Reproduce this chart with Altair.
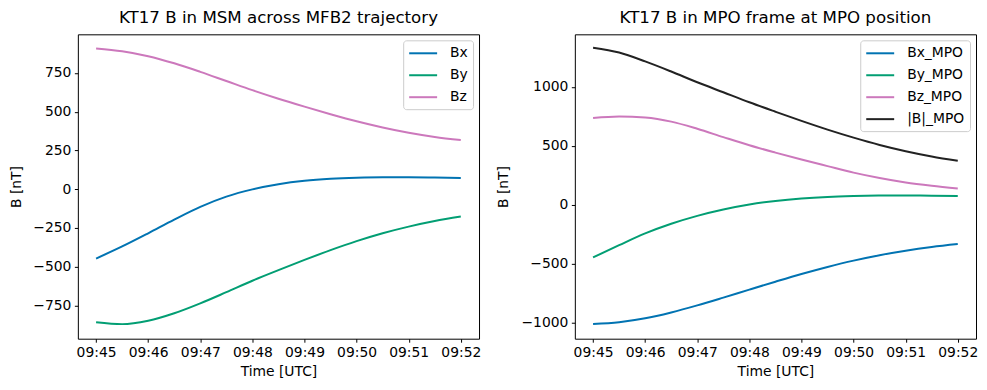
import json
import altair as alt
import pandas as pd

# minutes after 09:45 UTC
T_MIN = [0, 0.5, 1, 1.5, 2, 2.5, 3, 3.5, 4, 4.5, 5, 5.5, 6, 6.5, 7]
TICK_VALUES = [0, 1, 2, 3, 4, 5, 6, 7]
TICK_LABELS = ["09:45", "09:46", "09:47", "09:48", "09:49", "09:50", "09:51", "09:52"]

# Left panel: KT17 B in MSM
BX = [-447, -369, -284, -196, -114, -48, -1, 32, 54, 67, 74, 77, 77, 75, 72]
BY = [-858, -870, -848, -800, -736, -664, -590, -522, -456, -393, -335, -284, -241, -205, -176]
BZ = [908, 890, 858, 812, 757, 698, 639, 584, 533, 484, 438, 398, 364, 337, 317]

# Right panel: KT17 B in MPO frame
BX_MPO = [-1012, -997, -964, -914, -854, -788, -720, -653, -588, -528, -474, -428, -390, -359, -334]
BY_MPO = [-447, -343, -243, -161, -94, -40, 2, 33, 54, 67, 74, 78, 79, 77, 74]
BZ_MPO = [737, 750, 741, 706, 645, 574, 505, 443, 384, 328, 273, 227, 189, 161, 138]
BMAG_MPO = [1333, 1292, 1217, 1131, 1040, 955, 870, 790, 712, 638, 570, 508, 455, 410, 373]

LEFT_NAMES = ["Bx", "By", "Bz"]
RIGHT_NAMES = ["Bx_MPO", "By_MPO", "Bz_MPO", "|B|_MPO"]
LEFT_COLORS = ["#0173B2", "#029E73", "#CC78BC"]
RIGHT_COLORS = ["#0173B2", "#029E73", "#CC78BC", "#222222"]

LEFT_YTICKS = [-750, -500, -250, 0, 250, 500, 750]
RIGHT_YTICKS = [-1000, -500, 0, 500, 1000]


def long_df(names, series):
    rows = []
    for name, vals in zip(names, series):
        for t, v in zip(T_MIN, vals):
            rows.append({"t": t, "B": v, "series": name})
    return pd.DataFrame(rows)


FONT = "DejaVu Sans"
label_expr = json.dumps(TICK_LABELS) + "[round(datum.value)]"


def panel(df, names, colors, title, ydomain, yticks, ytitle_pad):
    return (
        alt.Chart(df, title=alt.Title(title))
        .mark_line(strokeWidth=2, interpolate="monotone")
        .encode(
            x=alt.X(
                "t:Q",
                scale=alt.Scale(domain=[-0.35, 7.35], nice=False, zero=False),
                axis=alt.Axis(values=TICK_VALUES, labelExpr=label_expr,
                              title="Time [UTC]", titlePadding=5),
            ),
            y=alt.Y(
                "B:Q",
                scale=alt.Scale(domain=ydomain, nice=False, zero=False),
                axis=alt.Axis(values=yticks, format="d", title="B [nT]",
                              titlePadding=ytitle_pad),
            ),
            color=alt.Color(
                "series:N",
                sort=names,
                scale=alt.Scale(domain=names, range=colors),
                legend=alt.Legend(
                    orient="top-right", offset=6, title=None,
                    symbolType="M-1,0H3", symbolSize=196, symbolStrokeWidth=2,
                    labelFont=FONT, labelFontSize=13.9, labelColor="black",
                    labelOffset=26, rowPadding=7, padding=5,
                    strokeColor="#cccccc", fillColor="white", cornerRadius=3,
                ),
            ),
        )
        .properties(width=402, height=305)
    )


left = panel(long_df(LEFT_NAMES, [BX, BY, BZ]), LEFT_NAMES, LEFT_COLORS,
             "KT17 B in MSM across MFB2 trajectory", [-964, 999], LEFT_YTICKS, 9)
right = panel(long_df(RIGHT_NAMES, [BX_MPO, BY_MPO, BZ_MPO, BMAG_MPO]), RIGHT_NAMES, RIGHT_COLORS,
              "KT17 B in MPO frame at MPO position", [-1137, 1447], RIGHT_YTICKS, 10)

chart = (
    alt.hconcat(left, right, spacing=14)
    .resolve_scale(color="independent")
    .properties(padding={"left": 1, "top": 0, "right": 0, "bottom": 0})
    .configure_view(stroke="black", strokeWidth=1)
    .configure_axis(
        domain=False, grid=False, tickColor="black", tickSize=3.5, tickWidth=1,
        labelFont=FONT, labelFontSize=13.9, labelColor="black", labelPadding=3.5,
        titleFont=FONT, titleFontSize=13.9, titleFontWeight="normal", titleColor="black",
    )
    .configure_title(font=FONT, fontSize=16.7, fontWeight="normal", color="black",
                     anchor="middle", baseline="alphabetic", offset=8)
)

chart.save("out.html", embed_options={"renderer": "svg", "actions": False})
